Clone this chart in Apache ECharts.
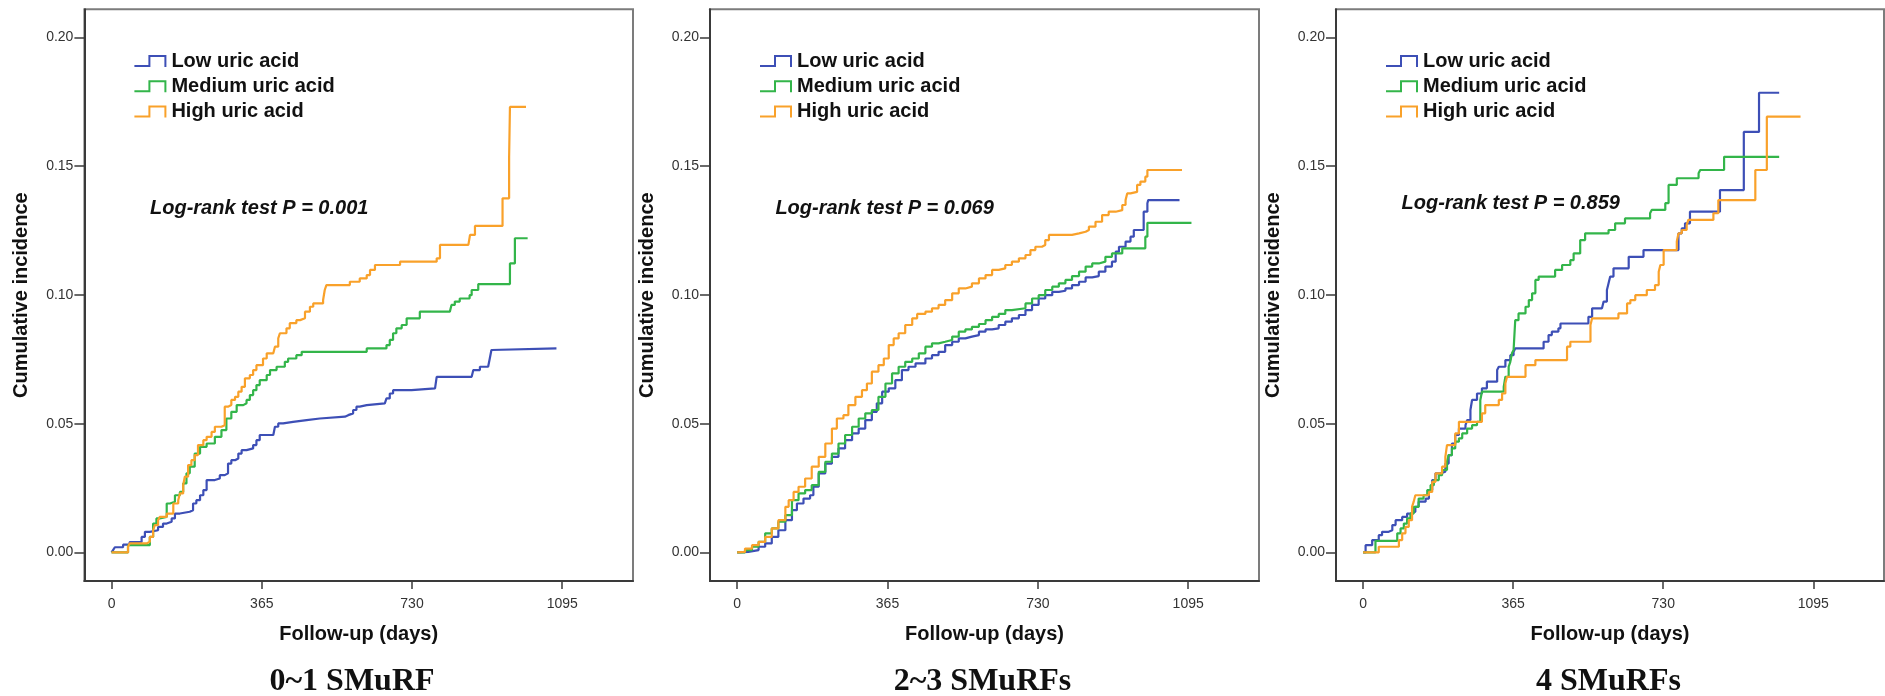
<!DOCTYPE html>
<html>
<head>
<meta charset="utf-8">
<title>Cumulative incidence by uric acid level</title>
<script src="https://cdn.jsdelivr.net/npm/echarts@6/dist/echarts.min.js"></script>
<style>
  html, body { margin: 0; padding: 0; background: #ffffff; }
  #chart { width: 1885px; height: 696px; }
</style>
</head>
<body>
<div id="chart"></div>
<script>
// ---- Data -------------------------------------------------------------
const groups = ['Low uric acid', 'Medium uric acid', 'High uric acid'];
const panelTitles = ['0~1 SMuRF', '2~3 SMuRFs', '4 SMuRFs'];
const logRankP = ['0.001', '0.069', '0.859'];
const dayTicks = [0, 365, 730, 1095];
const incidenceTicks = [0, 0.05, 0.10, 0.15, 0.20];

// Kaplan-Meier style cumulative incidence steps: [day, cumulative incidence]
const low01 = [[0,0],[4,0.001],[8,0.002],[28,0.003],[44,0.004],[73,0.006],[81,0.008],[93,0.0086],[113,0.0099],[125,0.0112],[134,0.0119],[146,0.0132],[154,0.0151],[166,0.0158],[190,0.0164],[198,0.019],[206,0.0203],[215,0.0222],[223,0.0242],[231,0.0281],[251,0.0287],[263,0.03],[275,0.0307],[283,0.0345],[291,0.0358],[300,0.0365],[308,0.0384],[316,0.0397],[328,0.0404],[344,0.0417],[352,0.0436],[360,0.0456],[393,0.0462],[397,0.0488],[405,0.0501],[417,0.0507],[441,0.0514],[474,0.052],[506,0.0527],[567,0.0533],[575,0.054],[587,0.0553],[595,0.0566],[603,0.0572],[620,0.0579],[664,0.0585],[668,0.0598],[676,0.0617],[684,0.063],[729,0.0637],[786,0.0643],[790,0.0682],[875,0.0689],[879,0.0708],[895,0.0721],[915,0.0727],[919,0.0753],[923,0.0786],[927,0.0792],[1081,0.0792]];
const med01 = [[0,0],[40,0.0028],[93,0.006],[101,0.0112],[109,0.0132],[117,0.0138],[134,0.019],[142,0.0197],[154,0.0222],[166,0.0235],[174,0.0268],[182,0.0307],[190,0.0333],[202,0.0384],[215,0.041],[231,0.0423],[251,0.0449],[267,0.0475],[279,0.052],[291,0.0546],[304,0.0572],[320,0.0579],[328,0.0592],[336,0.0611],[344,0.063],[352,0.065],[360,0.0669],[377,0.0689],[385,0.0708],[401,0.0721],[421,0.074],[429,0.0753],[449,0.0766],[462,0.0779],[620,0.0792],[668,0.0805],[676,0.0825],[684,0.0851],[692,0.087],[705,0.0883],[717,0.0909],[749,0.0935],[822,0.0941],[826,0.0961],[834,0.0974],[846,0.0986],[870,0.0999],[875,0.1019],[891,0.1042],[968,0.1122],[980,0.122],[1011,0.122]];
const high01 = [[0,0],[40,0.0022],[44,0.0035],[85,0.0041],[93,0.006],[101,0.0086],[105,0.0106],[113,0.0125],[117,0.0138],[134,0.0151],[150,0.019],[162,0.0203],[166,0.0229],[174,0.0261],[178,0.0294],[186,0.0339],[194,0.0358],[202,0.0378],[210,0.0417],[223,0.0436],[231,0.0449],[243,0.0468],[251,0.0488],[267,0.0494],[275,0.0566],[283,0.0572],[291,0.0592],[300,0.0604],[308,0.0624],[316,0.0643],[324,0.0676],[336,0.0689],[344,0.0708],[352,0.0727],[368,0.0753],[377,0.0773],[393,0.0779],[397,0.0799],[405,0.0831],[409,0.0851],[425,0.087],[433,0.089],[449,0.0902],[458,0.0909],[470,0.0935],[482,0.0954],[490,0.0967],[514,0.098],[518,0.1019],[522,0.1038],[579,0.1051],[603,0.1064],[620,0.1077],[628,0.1097],[640,0.1116],[701,0.1129],[790,0.1142],[798,0.1194],[867,0.12],[871,0.1233],[883,0.1268],[950,0.1375],[966,0.1536],[968,0.173],[1007,0.173]];

const low23 = [[0,0],[3,0.0002],[27,0.0009],[52,0.0022],[68,0.0035],[84,0.006],[100,0.0086],[117,0.0125],[133,0.0164],[145,0.019],[161,0.0209],[177,0.0222],[185,0.0255],[198,0.0307],[214,0.0345],[230,0.0371],[246,0.0404],[262,0.0436],[279,0.0462],[295,0.0481],[311,0.0514],[327,0.0546],[339,0.0579],[352,0.0624],[368,0.0637],[384,0.0669],[400,0.0708],[416,0.0721],[433,0.0734],[457,0.0753],[473,0.0766],[489,0.0779],[505,0.0805],[522,0.0818],[538,0.0831],[554,0.0838],[570,0.0844],[587,0.0857],[603,0.0866],[619,0.087],[635,0.0883],[651,0.0896],[667,0.0909],[684,0.0922],[700,0.0941],[716,0.0961],[732,0.0986],[748,0.0999],[765,0.1012],[781,0.1016],[797,0.1025],[813,0.1038],[830,0.1051],[846,0.1068],[862,0.1073],[878,0.109],[894,0.111],[910,0.1129],[919,0.1168],[927,0.1187],[943,0.1207],[955,0.1226],[963,0.1252],[987,0.1323],[996,0.1356],[998,0.1368],[1074,0.1368]];
const med23 = [[0,0],[19,0.0009],[36,0.0022],[52,0.0041],[68,0.0074],[84,0.0093],[100,0.0119],[117,0.0145],[133,0.0203],[149,0.0229],[165,0.0242],[181,0.0261],[198,0.0313],[214,0.0352],[230,0.0384],[246,0.0423],[262,0.0456],[279,0.0488],[295,0.052],[311,0.054],[327,0.0553],[343,0.0604],[360,0.0656],[376,0.0695],[392,0.0721],[408,0.074],[425,0.0753],[441,0.0773],[457,0.0799],[473,0.0812],[489,0.0818],[505,0.0825],[522,0.0838],[538,0.0857],[554,0.0866],[570,0.0876],[587,0.0887],[603,0.0902],[619,0.0915],[635,0.0926],[651,0.0941],[667,0.0948],[700,0.0967],[716,0.0986],[732,0.0999],[748,0.1019],[765,0.1032],[781,0.1045],[797,0.1058],[813,0.1073],[830,0.109],[846,0.111],[862,0.1122],[878,0.1129],[894,0.1148],[910,0.1161],[935,0.1181],[991,0.1226],[996,0.128],[1103,0.128]];
const high23 = [[0,0],[3,0.0002],[19,0.0015],[36,0.0028],[52,0.0041],[68,0.006],[84,0.0093],[100,0.0125],[117,0.0177],[125,0.0203],[137,0.0235],[149,0.0255],[165,0.0287],[181,0.0333],[198,0.0371],[214,0.0423],[230,0.0481],[242,0.052],[258,0.0533],[270,0.0572],[287,0.0604],[303,0.063],[315,0.0656],[327,0.0702],[343,0.0727],[356,0.0753],[368,0.0805],[380,0.0831],[392,0.0851],[408,0.0883],[425,0.0909],[437,0.0926],[457,0.0935],[473,0.0948],[489,0.0961],[505,0.098],[522,0.1006],[538,0.1025],[554,0.1032],[570,0.1045],[587,0.1064],[603,0.1077],[619,0.1097],[635,0.1103],[651,0.1116],[667,0.1129],[684,0.1142],[700,0.1155],[712,0.1174],[724,0.1187],[740,0.1194],[748,0.1213],[757,0.1233],[813,0.1239],[830,0.1245],[846,0.1252],[854,0.1265],[870,0.1284],[886,0.131],[902,0.1323],[919,0.1329],[935,0.1349],[943,0.1368],[947,0.1394],[955,0.14],[971,0.1427],[979,0.144],[991,0.1459],[996,0.1485],[1080,0.1485]];

const low4 = [[0,0],[6,0.0028],[22,0.0048],[38,0.0067],[46,0.008],[62,0.0086],[71,0.0106],[79,0.0125],[95,0.0138],[107,0.0151],[115,0.0158],[127,0.0177],[135,0.0197],[152,0.0209],[160,0.0242],[168,0.0281],[176,0.0307],[188,0.0313],[200,0.0345],[208,0.0378],[216,0.0423],[224,0.0456],[233,0.0481],[249,0.0494],[253,0.0514],[261,0.0553],[265,0.0592],[277,0.0617],[289,0.0637],[301,0.0663],[326,0.0708],[330,0.0721],[346,0.0747],[358,0.0766],[366,0.0779],[370,0.0792],[439,0.0818],[451,0.0844],[459,0.0857],[475,0.087],[480,0.0889],[548,0.0915],[557,0.0948],[581,0.0954],[585,0.0974],[593,0.1019],[597,0.1045],[601,0.1071],[609,0.1103],[646,0.1148],[682,0.1174],[767,0.1239],[775,0.1258],[783,0.1278],[795,0.1323],[868,0.1407],[926,0.1633],[963,0.1785],[1012,0.1785]];
const med4 = [[0,0],[30,0.0045],[83,0.0074],[91,0.0093],[99,0.0112],[107,0.0132],[115,0.0151],[123,0.0177],[135,0.0209],[147,0.0222],[156,0.0242],[164,0.0261],[172,0.0281],[184,0.03],[192,0.032],[204,0.0352],[208,0.0378],[216,0.0404],[224,0.043],[233,0.0443],[241,0.0462],[253,0.0481],[265,0.0494],[277,0.0507],[285,0.0591],[289,0.0624],[342,0.0643],[346,0.0682],[354,0.0721],[358,0.074],[362,0.0773],[366,0.0786],[370,0.0902],[378,0.0928],[395,0.0954],[403,0.098],[411,0.1006],[419,0.1058],[427,0.1071],[467,0.1097],[484,0.1116],[504,0.1135],[512,0.1161],[528,0.1213],[540,0.1239],[597,0.1252],[613,0.1278],[637,0.1297],[698,0.1317],[702,0.133],[735,0.1356],[743,0.1427],[763,0.1453],[816,0.1472],[820,0.1485],[878,0.1536],[1012,0.1536]];
const high4 = [[0,0],[38,0.0022],[87,0.0048],[95,0.0074],[103,0.0099],[111,0.0125],[119,0.0177],[123,0.0197],[127,0.0222],[160,0.0235],[168,0.0274],[176,0.0307],[192,0.0333],[200,0.0371],[204,0.0417],[224,0.0462],[233,0.0507],[289,0.054],[297,0.0572],[330,0.0592],[338,0.0617],[346,0.0656],[350,0.0682],[395,0.0727],[419,0.0747],[496,0.0799],[504,0.0818],[553,0.0883],[557,0.0909],[621,0.0928],[642,0.0967],[650,0.098],[662,0.0999],[690,0.1019],[710,0.1038],[719,0.109],[723,0.1116],[731,0.1174],[763,0.1207],[767,0.1239],[775,0.1252],[787,0.1271],[791,0.1291],[852,0.1317],[864,0.1368],[954,0.1485],[982,0.1692],[1064,0.1692]];

const curves = [
  [low01, med01, high01],
  [low23, med23, high23],
  [low4, med4, high4]
];

// ---- Layout & style ---------------------------------------------------
const colors = ['#3d4fb6', '#33b54a', '#f9a12a'];
const sans = '"Liberation Sans", Arial, Helvetica, sans-serif';
const serif = '"Liberation Serif", "Times New Roman", serif';
const panelLeft = [84.4, 710, 1336];
const panelWidth = [548.6, 549, 548];
const gridTop = 9.3;
const gridHeight = 571.7;
const titleCenterX = [352, 982.5, 1608.5];
const logRankPos = [[150, 208.3], [775.4, 208], [1401.5, 203.8]];
const axisColor = '#3a3a3a';

// legend glyph: a small step outline
const stepIcon = 'path://M0,10 L14,10 L14,0 L32,0 L32,12 L30,12 L30,2 L16,2 L16,12 L0,12 Z';

const grid = panelLeft.map((l, i) => ({
  left: l, top: gridTop, width: panelWidth[i], height: gridHeight,
  show: true, borderColor: '#7c7c7c', borderWidth: 2, backgroundColor: '#ffffff'
}));

const xAxis = panelLeft.map((l, i) => ({
  type: 'value', gridIndex: i, min: -66, max: 1267,
  axisLine: { onZero: false, lineStyle: { color: axisColor, width: 2 } },
  axisTick: { customValues: dayTicks, length: 8, lineStyle: { color: axisColor, width: 1.5 } },
  axisLabel: {
    customValues: dayTicks, margin: 16, fontSize: 14, color: '#333', fontFamily: sans,
    formatter: v => String(v)
  },
  splitLine: { show: false },
  name: 'Follow-up (days)', nameLocation: 'middle', nameGap: 43,
  nameTextStyle: { fontSize: 20, fontWeight: 'bold', color: '#111', fontFamily: sans }
}));

const yAxis = panelLeft.map((l, i) => ({
  type: 'value', gridIndex: i, min: -0.0111, max: 0.2109,
  axisLine: { onZero: false, lineStyle: { color: axisColor, width: 2 } },
  axisTick: { customValues: incidenceTicks, length: 10, lineStyle: { color: axisColor, width: 1.5 } },
  axisLabel: {
    customValues: incidenceTicks, margin: 11, fontSize: 14, color: '#333', fontFamily: sans,
    formatter: v => v.toFixed(2)
  },
  splitLine: { show: false },
  name: 'Cumulative incidence', nameLocation: 'middle', nameGap: 53,
  nameTextStyle: { fontSize: 20, fontWeight: 'bold', color: '#111', fontFamily: sans }
}));

const series = [];
curves.forEach((panel, p) => {
  panel.forEach((pts, g) => {
    series.push({
      type: 'line', name: groups[g], xAxisIndex: p, yAxisIndex: p,
      data: pts, step: 'end', symbol: 'none', showSymbol: false,
      lineStyle: { width: 2.2, color: colors[g] },
      itemStyle: { color: colors[g] },
      emphasis: { disabled: true }, clip: true, z: 2 + g
    });
  });
});

const legend = panelLeft.map(l => ({
  data: groups, orient: 'vertical', left: l + 50, top: 51,
  itemWidth: 32, itemHeight: 12, itemGap: 5.3, padding: 0,
  icon: stepIcon, selectedMode: false,
  itemStyle: { borderWidth: 0 },
  textStyle: { fontSize: 20, fontWeight: 'bold', color: '#111', lineHeight: 20, fontFamily: sans }
}));

const graphic = [];
panelTitles.forEach((t, i) => {
  graphic.push({
    type: 'text', x: titleCenterX[i], y: 682, silent: true,
    style: {
      text: t, fill: '#111', font: 'bold 32px ' + serif,
      textAlign: 'center', textVerticalAlign: 'middle', align: 'center', verticalAlign: 'middle'
    }
  });
  graphic.push({
    type: 'text', x: logRankPos[i][0], y: logRankPos[i][1], silent: true,
    style: {
      text: 'Log-rank test P = ' + logRankP[i], fill: '#111', font: 'italic bold 20px ' + sans,
      textAlign: 'left', textVerticalAlign: 'middle', align: 'left', verticalAlign: 'middle'
    }
  });
});

const chart = echarts.init(document.getElementById('chart'), null, { renderer: 'canvas' });
chart.setOption({
  backgroundColor: '#ffffff',
  animation: false,
  grid, xAxis, yAxis, series, legend, graphic
});
</script>
</body>
</html>
